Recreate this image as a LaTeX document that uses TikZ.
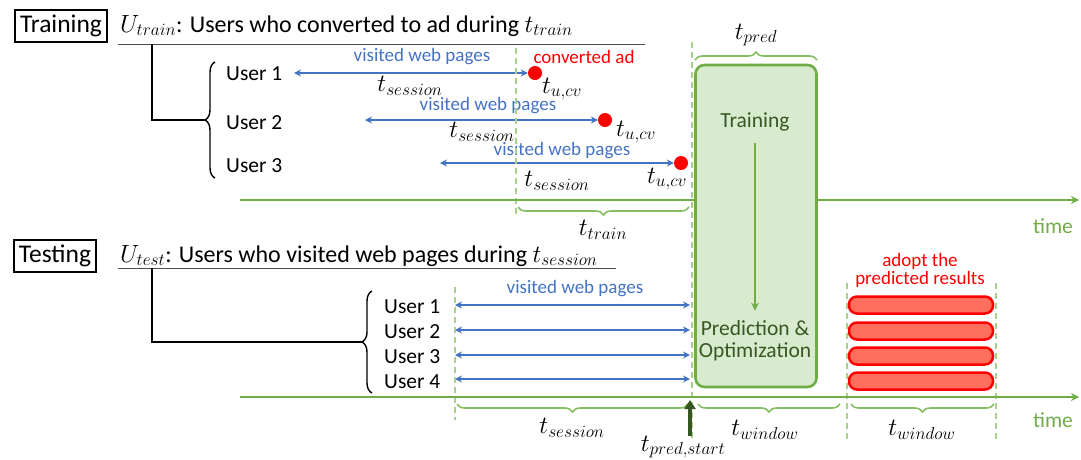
\documentclass[tikz,border=0pt]{standalone}
\usepackage{fontspec}
\setmainfont{Carlito}
\usetikzlibrary{decorations.pathreplacing,arrows.meta}
\definecolor{lineG}{HTML}{70AD47}
\definecolor{dashG}{HTML}{A9D18E}
\definecolor{braceG}{HTML}{86BE62}
\definecolor{boxF}{HTML}{D8EBCE}
\definecolor{darkG}{HTML}{385723}
\definecolor{arrG}{HTML}{375623}
\definecolor{blueA}{HTML}{4472C4}
\definecolor{barF}{HTML}{FF6F5E}
\newcommand{\fbig}{\fontsize{24}{27}\selectfont}
\newcommand{\fsecbox}{\fontsize{25.5}{27}\selectfont}
\newcommand{\fuser}{\fontsize{21.5}{24}\selectfont}
\newcommand{\fvis}{\fontsize{19}{21}\selectfont}
\newcommand{\fmath}{\fontsize{24}{27}\selectfont}
\newcommand{\fgbox}{\fontsize{21.5}{22}\selectfont}
\begin{document}
\begin{tikzpicture}[x=1pt,y=-1pt,
  secbox/.style={draw,line width=1.6pt,inner xsep=5pt,inner ysep=5pt,font=\fsecbox},
  plain/.style={inner sep=0pt,font=\fbig},
  userlbl/.style={inner sep=0pt,font=\fuser,anchor=west},
  visit/.style={inner sep=0pt,font=\fvis,text=blueA},
  mlbl/.style={inner sep=0pt,font=\fmath},
  span/.style={blueA,line width=1.5pt,{Stealth[length=7pt,width=7pt]}-{Stealth[length=7pt,width=7pt]}},
  cvdot/.style={circle,fill=red,inner sep=0pt,minimum size=14pt},
  vdash/.style={dashG,line width=1.4pt,dash pattern=on 6pt off 4pt},
  timeline/.style={lineG,line width=2.2pt,-{Stealth[length=8pt,width=8pt]}},
  gbrace/.style={braceG,line width=1.6pt,decorate,decoration={brace,amplitude=8pt}},
  kbrace/.style={black,line width=1.4pt,decorate,decoration={brace,amplitude=10pt}},
  tree/.style={black,line width=1.4pt},
  bar/.style={draw=red,fill=barF,line width=2.5pt,rounded corners=8pt,minimum width=144pt,minimum height=17pt,inner sep=0pt},
  timelbl/.style={inner sep=0pt,font=\fuser,text=lineG}
]
\useasboundingbox (0,0) rectangle (1081,459);

% ---------- Training section ----------
\node[secbox] (trbox) at (61,26) {Training};
\node[plain,anchor=base west] (utrain) at (120,32) {$U_{train}$: Users who converted to ad during $t_{train}$};
\coordinate (ul1a) at (118,44);
\coordinate (ul1b) at (645,44);
\draw[black!70,line width=1pt] (ul1a) -- (ul1b);
\coordinate (br1top) at (152,44);
\coordinate (br1c) at (152,120);
\coordinate (br1tip) at (205,120);
\draw[tree] (br1top) -- (br1c) -- (br1tip);
\coordinate (kb1b) at (215,178);
\coordinate (kb1t) at (215,62);
\draw[kbrace] (kb1b) -- (kb1t);

\node[userlbl] (tu1) at (226,74) {User 1};
\node[userlbl] (tu2) at (226,123) {User 2};
\node[userlbl] (tu3) at (226,166) {User 3};

\coordinate (a1s) at (294,73);
\node[cvdot] (d1) at (535,73) {};
\draw[span] (a1s) -- (d1.west);
\node[visit] (v1) at (422,57) {visited web pages};
\node[inner sep=0pt,font=\fvis,text=red] (cvad) at (584,57) {converted ad};
\node[mlbl] (ts1) at (410,86) {$t_{session}$};
\node[mlbl] (tc1) at (562,89) {$t_{u,cv}$};

\coordinate (a2s) at (365,120);
\node[cvdot] (d2) at (605,120) {};
\draw[span] (a2s) -- (d2.west);
\node[visit] (v2) at (488,106) {visited web pages};
\node[mlbl] (ts2) at (482,132) {$t_{session}$};
\node[mlbl] (tc2) at (636,132) {$t_{u,cv}$};

\coordinate (a3s) at (440,163);
\node[cvdot] (d3) at (681,163) {};
\draw[span] (a3s) -- (d3.west);
\node[visit] (v3) at (562,151) {visited web pages};
\node[mlbl] (ts3) at (557,181) {$t_{session}$};
\node[mlbl] (tc3) at (667,179) {$t_{u,cv}$};

% dashed verticals
\coordinate (dv1a) at (516,48);
\coordinate (dv1b) at (516,215);
\draw[vdash] (dv1a) -- (dv1b);
\coordinate (dv2a) at (692,42);
\coordinate (dv2b) at (692,440);
\draw[vdash] (dv2a) -- (dv2b);

% upper timeline
\coordinate (tl1a) at (240,200);
\coordinate (tl1b) at (1079,200);
\draw[timeline] (tl1a) -- (tl1b);
\node[timelbl] (time1) at (1053,226) {time};
\coordinate (btr1) at (518,207);
\coordinate (btr2) at (689,207);
\draw[gbrace,decoration={mirror}] (btr1) -- (btr2);
\node[mlbl] (ttrain) at (603,230) {$t_{train}$};

% green box
\node[draw=lineG,fill=boxF,line width=2.6pt,rounded corners=9pt,minimum width=121pt,minimum height=322pt,inner sep=0pt] (gbox) at (756,226) {};
\coordinate (bp1) at (695,60);
\coordinate (bp2) at (817,60);
\draw[gbrace] (bp1) -- (bp2);
\node[mlbl] (tpred) at (756,35) {$t_{pred}$};
\node[inner sep=0pt,font=\fgbox,text=darkG] (gtrain) at (755,122) {Training};
\node[inner sep=0pt,font=\fgbox,text=darkG,align=center] (gpred) at (755,341) {Prediction \&\\Optimization};
\draw[lineG,line width=1.5pt,-{Stealth[length=8pt,width=8pt]}] ([yshift=-12pt]gtrain.south) -- ([yshift=10pt]gpred.north);

% ---------- Testing section ----------
\node[secbox] (tebox) at (55,256) {Testing};
\node[plain,anchor=base west] (utest) at (120,262) {$U_{test}$: Users who visited web pages during $t_{session}$};
\coordinate (ul2a) at (118,268);
\coordinate (ul2b) at (616,268);
\draw[black!70,line width=1pt] (ul2a) -- (ul2b);
\coordinate (br2top) at (152,268);
\coordinate (br2c) at (152,342);
\coordinate (br2tip) at (362,342);
\draw[tree] (br2top) -- (br2c) -- (br2tip);
\coordinate (kb2b) at (372,393);
\coordinate (kb2t) at (372,291);
\draw[kbrace] (kb2b) -- (kb2t);

\node[userlbl] (su1) at (384,307) {User 1};
\node[userlbl] (su2) at (384,332) {User 2};
\node[userlbl] (su3) at (384,357) {User 3};
\node[userlbl] (su4) at (384,382) {User 4};
\foreach \i/\y in {1/305,2/330,3/355,4/379}{
  \coordinate (sa\i) at (455,\y);
  \coordinate (sb\i) at (690,\y);
  \draw[span] (sa\i) -- (sb\i);
}
\node[visit] (v4) at (575,289) {visited web pages};

\coordinate (dv3a) at (455,287);
\coordinate (dv3b) at (455,420);
\draw[vdash] (dv3a) -- (dv3b);
\coordinate (dv4a) at (847,283);
\coordinate (dv4b) at (847,443);
\draw[vdash] (dv4a) -- (dv4b);
\coordinate (dv5a) at (996,283);
\coordinate (dv5b) at (996,443);
\draw[vdash] (dv5a) -- (dv5b);

% red bars
\node[bar] (bar1) at (921,305) {};
\node[bar] (bar2) at (921,331) {};
\node[bar] (bar3) at (921,356) {};
\node[bar] (bar4) at (921,381) {};
\node[inner sep=0pt,font=\fvis,text=red,align=center] (adopt) at (920,270) {adopt the\\[-3pt]predicted results};

% lower timeline
\coordinate (tl2a) at (240,397);
\coordinate (tl2b) at (1079,397);
\draw[timeline] (tl2a) -- (tl2b);
\node[timelbl] (time2) at (1053,420) {time};

\coordinate (bs1) at (457,404);
\coordinate (bs2) at (688,404);
\draw[gbrace,decoration={mirror}] (bs1) -- (bs2);
\node[mlbl] (tsess) at (572,428) {$t_{session}$};
\coordinate (bw1) at (698,404);
\coordinate (bw2) at (840,404);
\draw[gbrace,decoration={mirror}] (bw1) -- (bw2);
\node[mlbl] (twin1) at (765,430) {$t_{window}$};
\coordinate (bw3) at (851,404);
\coordinate (bw4) at (994,404);
\draw[gbrace,decoration={mirror}] (bw3) -- (bw4);
\node[mlbl] (twin2) at (922,430) {$t_{window}$};

\node[mlbl] (tps) at (683,447) {$t_{pred,start}$};
\coordinate (psb) at (690,400);
\draw[arrG,line width=3.5pt,-{Triangle[length=9pt,width=11pt]}] (tps.north -| psb) -- (psb);
\end{tikzpicture}
\end{document}
